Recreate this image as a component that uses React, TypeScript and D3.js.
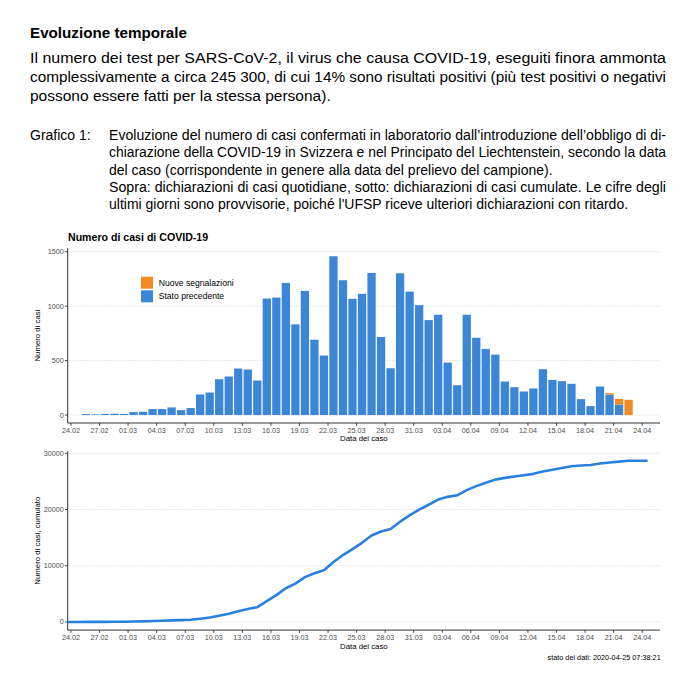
import React from "react";
import * as d3 from "d3";

// ---------- data ----------
const firstCaseDate = "2020-02-25"; // first bar
const statoPrecedente = [
  9, 6, 10, 12, 10,
  27, 30, 55, 55, 70, 45, 64,
  189, 207, 329, 354, 427, 418, 317,
  1070, 1079, 1213, 833, 1140, 692, 546,
  1458, 1238, 1067, 1113, 1305, 717, 430,
  1302, 1134, 1009, 872, 921, 482, 274,
  921, 710, 607, 555, 308, 256, 216,
  244, 421, 323, 311, 287, 146, 82,
  262, 186, 95, 0,
];
const nuoveSegnalazioni = [
  0, 0, 0, 0, 0,
  0, 0, 0, 0, 0, 0, 0,
  0, 0, 0, 0, 0, 0, 0,
  0, 0, 0, 0, 0, 0, 0,
  0, 0, 0, 0, 0, 0, 0,
  0, 0, 0, 0, 0, 0, 0,
  0, 0, 0, 0, 0, 0, 0,
  0, 0, 0, 0, 0, 0, 0,
  0, 15, 54, 140,
];
const xTickLabels = [
  "24.02", "27.02", "01.03", "04.03", "07.03", "10.03", "13.03", "16.03",
  "19.03", "22.03", "25.03", "28.03", "31.03", "03.04", "06.04", "09.04",
  "12.04", "15.04", "18.04", "21.04", "24.04",
];
const topYTicks = [0, 500, 1000, 1500];
const bottomYTicks = [0, 10000, 20000, 30000];
const legendLabels = ["Nuove segnalazioni", "Stato precedente"];
const cumulativeRange = ["2020-02-23", "2020-04-24"];

const headingText = "Evoluzione temporale";
const paragraphLines = [
  "Il numero dei test per SARS-CoV-2, il virus che causa COVID-19, eseguiti finora ammonta",
  "complessivamente a circa 245 300, di cui 14% sono risultati positivi (più test positivi o negativi",
  "possono essere fatti per la stessa persona).",
];
const paragraphJustified = [true, true, false];
const captionLabel = "Grafico 1:";
const captionLines = [
  "Evoluzione del numero di casi confermati in laboratorio dall’introduzione dell’obbligo di di-",
  "chiarazione della COVID-19 in Svizzera e nel Principato del Liechtenstein, secondo la data",
  "del caso (corrispondente in genere alla data del prelievo del campione).",
  "Sopra: dichiarazioni di casi quotidiane, sotto: dichiarazioni di casi cumulate. Le cifre degli",
  "ultimi giorni sono provvisorie, poiché l'UFSP riceve ulteriori dichiarazioni con ritardo.",
];
const captionJustified = [true, true, false, true, false];
const topTitle = "Numero di casi di COVID-19";
const xTitle = "Data del caso";
const topYTitle = "Numero di casi";
const bottomYTitle = "Numero di casi, cumulato";
const footer = "stato dei dati: 2020-04-25 07:38:21";

// ---------- style ----------
const FONT = "'Liberation Sans', Arial, Helvetica, sans-serif";
const BLUE = "#3b86d7";
const ORANGE = "#f28a22";
const LINE = "#2a80dd";
const GRID = "#cfcfcf";
const AXIS = "#333333";
const TEXT = "#4d4d4d";

const DAY = 86400000;
const parseUTC = (s: string) => {
  const [y, m, d] = s.split("-").map(Number);
  return new Date(Date.UTC(y, m - 1, d));
};
const parseTick = (s: string) => {
  const [d, m] = s.split(".").map(Number);
  return new Date(Date.UTC(2020, m - 1, d));
};

export default function App() {
  const W = 696;
  const H = 686;
  const left = 67.7;
  const right = 660;
  const origin = parseTick(xTickLabels[0]).getTime();
  const x = d3
    .scaleUtc()
    .domain([new Date(origin - 0.345 * DAY), new Date(origin + 61.87 * DAY)])
    .range([left, right]);
  const dayPx = x(new Date(origin + DAY)) - x(new Date(origin));
  const barW = dayPx * 0.87;
  const centerOffset = 0.57 * DAY;

  const start = parseUTC(firstCaseDate);
  const caseDates = d3.utcDay.range(
    start,
    d3.utcDay.offset(start, statoPrecedente.length)
  );
  const rows = caseDates.map((d, i) => ({
    date: d,
    stato: statoPrecedente[i],
    nuove: nuoveSegnalazioni[i],
  }));
  const stack = d3.stack<any>().keys(["stato", "nuove"])(rows);

  // top chart
  const top = { y0: 248.1, y1: 423 };
  const yTop = d3.scaleLinear().domain([-73, 1533]).range([top.y1, top.y0]);

  // bottom chart
  const bot = { y0: 451.2, y1: 630.1 };
  const yBot = d3.scaleLinear().domain([-1447, 30377]).range([bot.y1, bot.y0]);

  const totalsByDay = new Map<number, number>();
  rows.forEach((r) => totalsByDay.set(r.date.getTime(), r.stato + r.nuove));
  const cumDates = d3.utcDay.range(
    parseUTC(cumulativeRange[0]),
    d3.utcDay.offset(parseUTC(cumulativeRange[1]), 1)
  );
  const cumValues = Array.from(
    d3.cumsum(cumDates.map((d) => totalsByDay.get(d.getTime()) ?? 0))
  );
  const line = d3
    .line<number>()
    .x((_, i) => x(new Date(cumDates[i].getTime() + centerOffset)))
    .y((v) => yBot(v))
    .curve(d3.curveLinear);

  const tickDates = xTickLabels.map(parseTick);

  const xAxis = (yLine: number, labelY: number, titleY: number) => (
    <g>
      <line x1={left} x2={right} y1={yLine} y2={yLine} stroke={AXIS} strokeWidth={1} />
      {tickDates.map((d, i) => (
        <g key={i}>
          <line x1={x(d)} x2={x(d)} y1={yLine} y2={yLine + 2.8} stroke={AXIS} strokeWidth={0.9} />
          <text x={x(d)} y={labelY} textAnchor="middle" fontSize={7.2} fill={TEXT}>
            {xTickLabels[i]}
          </text>
        </g>
      ))}
      <text x={(left + right) / 2} y={titleY} textAnchor="middle" fontSize={7.8} fill="#000">
        {xTitle}
      </text>
    </g>
  );

  const yAxis = (
    scale: d3.ScaleLinear<number, number>,
    ticks: number[],
    y0: number,
    y1: number,
    title: string
  ) => (
    <g>
      {ticks.map((t) => (
        <line
          key={"g" + t}
          x1={left}
          x2={right}
          y1={scale(t)}
          y2={scale(t)}
          stroke={GRID}
          strokeWidth={0.8}
          strokeDasharray="1 1.4"
        />
      ))}
      <line x1={left} x2={left} y1={y0} y2={y1} stroke={AXIS} strokeWidth={1} />
      {ticks.map((t) => (
        <g key={t}>
          <line x1={left - 2.8} x2={left} y1={scale(t)} y2={scale(t)} stroke={AXIS} strokeWidth={0.9} />
          <text x={left - 4} y={scale(t)} dy="0.35em" textAnchor="end" fontSize={7.2} fill={TEXT}>
            {t}
          </text>
        </g>
      ))}
      <text
        transform={`translate(40,${(y0 + y1) / 2}) rotate(-90)`}
        textAnchor="middle"
        fontSize={7.8}
        fill="#000"
      >
        {title}
      </text>
    </g>
  );

  return (
    <svg
      width={W}
      height={H}
      viewBox={`0 0 ${W} ${H}`}
      style={{ position: "absolute", left: 0, top: 0, background: "#fff", fontFamily: FONT }}
    >
      <rect width={W} height={H} fill="#fff" />
      {/* header */}
      <text x={30} y={37.5} fontSize={15.2} fontWeight="bold" fill="#000">
        {headingText}
      </text>
      {paragraphLines.map((l, i) => (
        <text
          key={i}
          x={30}
          y={63 + i * 19}
          fontSize={15.5}
          fill="#000"
          textLength={paragraphJustified[i] ? 636 : undefined}
          lengthAdjust="spacingAndGlyphs"
        >
          {l}
        </text>
      ))}
      <text x={30} y={140} fontSize={14} fill="#000">
        {captionLabel}
      </text>
      {captionLines.map((l, i) => (
        <text
          key={i}
          x={109}
          y={140 + i * 17.25}
          fontSize={14}
          fill="#000"
          textLength={captionJustified[i] ? 557 : undefined}
          lengthAdjust="spacingAndGlyphs"
        >
          {l}
        </text>
      ))}

      {/* top chart */}
      <text x={68} y={241} fontSize={10.6} fontWeight="bold" fill="#000">
        {topTitle}
      </text>
      {yAxis(yTop, topYTicks, top.y0, top.y1, topYTitle)}
      {stack.map((layer, li) => (
        <g key={li} fill={li === 0 ? BLUE : ORANGE}>
          {layer.map((seg, i) =>
            seg[1] - seg[0] > 0 ? (
              <rect
                key={i}
                x={x(new Date(rows[i].date.getTime() + centerOffset)) - barW / 2}
                width={barW}
                y={yTop(seg[1])}
                height={yTop(seg[0]) - yTop(seg[1])}
              />
            ) : null
          )}
        </g>
      ))}
      {xAxis(top.y1, 432.6, 441)}
      {/* legend */}
      {legendLabels.map((lab, i) => (
        <g key={lab}>
          <rect x={141} y={276.7 + i * 13.6} width={12} height={12} fill={i === 0 ? ORANGE : BLUE} />
          <text x={158.7} y={282.7 + i * 13.6} dy="0.35em" fontSize={8.6} fill="#000">
            {lab}
          </text>
        </g>
      ))}

      {/* bottom chart */}
      <defs>
        <clipPath id="botClip">
          <rect x={left} y={bot.y0} width={right - left} height={bot.y1 - bot.y0} />
        </clipPath>
      </defs>
      {yAxis(yBot, bottomYTicks, bot.y0, bot.y1, bottomYTitle)}
      <path
        d={line(cumValues) || ""}
        fill="none"
        stroke={LINE}
        strokeWidth={2.6}
        strokeLinejoin="round"
        clipPath="url(#botClip)"
      />
      {xAxis(bot.y1, 640, 649)}
      <text x={660.7} y={659.5} textAnchor="end" fontSize={7.3} fill="#000">
        {footer}
      </text>
    </svg>
  );
}
